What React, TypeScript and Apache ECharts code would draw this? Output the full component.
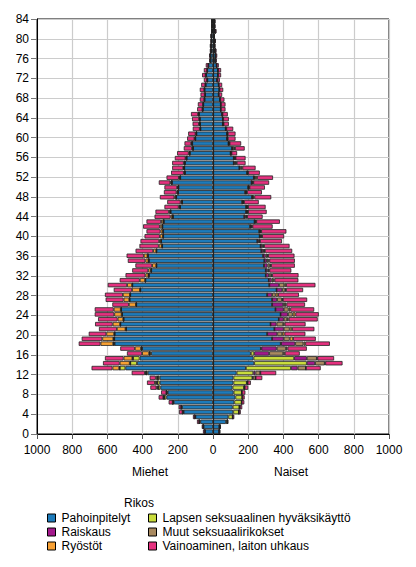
import React, { useEffect, useRef } from "react";
import * as echarts from "echarts";

// Age categories (one bar per year of age, 0..84)
const ages = [
  "0","1","2","3","4","5","6","7","8","9","10","11","12","13","14","15","16","17","18","19",
  "20","21","22","23","24","25","26","27","28","29","30","31","32","33","34","35","36","37","38","39",
  "40","41","42","43","44","45","46","47","48","49","50","51","52","53","54","55","56","57","58","59",
  "60","61","62","63","64","65","66","67","68","69","70","71","72","73","74","75","76","77","78","79",
  "80","81","82","83","84",
];

const crimeNames = [
  "Pahoinpitelyt",
  "Lapsen seksuaalinen hyväksikäyttö",
  "Raiskaus",
  "Muut seksuaalirikokset",
  "Ryöstöt",
  "Vainoaminen, laiton uhkaus",
];
const crimeColors = ["#1d7bbb", "#c9dc3c", "#a3198c", "#a98a60", "#f7a033", "#e5317f"];

// Miehet (men)
const mPahoinpitelyt = [
  45,53,72,100,167,176,223,265,258,299,303,303,371,498,432,417,352,403,559,561,
  559,494,526,508,517,522,436,474,470,413,458,384,365,351,321,365,370,321,289,295,
  283,283,287,280,228,241,187,176,209,199,196,234,186,160,163,160,150,132,113,118,
  100,94,71,74,75,80,58,55,48,45,48,42,32,40,33,26,14,14,11,11,
  9,9,6,6,6,
];
const mLapsen = [
  2,2,5,3,4,4,4,13,5,12,14,10,8,32,38,38,8,3,3,0,
  0,0,0,0,0,0,0,0,0,0,0,0,0,0,0,0,0,0,0,0,
  0,0,0,0,0,0,0,0,0,0,0,0,0,0,0,0,0,0,0,0,
  0,0,0,0,0,0,0,0,0,0,0,0,0,0,0,0,0,0,0,0,
  0,0,0,0,0,
];
const mRaiskaus = [
  0,0,0,0,0,0,0,0,0,0,0,0,0,0,0,0,0,0,2,2,
  0,0,0,0,0,0,0,0,0,0,0,0,0,0,0,0,0,0,0,0,
  0,0,0,0,0,0,0,0,0,0,0,0,0,0,0,0,0,0,0,0,
  0,0,0,0,0,0,0,0,0,0,0,0,0,0,0,0,0,0,0,0,
  0,0,0,0,0,
];
const mMuut = [
  0,1,2,1,2,1,2,2,2,5,5,4,3,3,3,3,3,3,3,3,
  3,3,2,2,2,2,2,2,2,2,2,2,2,2,2,2,2,2,2,2,
  2,2,2,3,3,3,3,3,3,3,3,3,3,3,3,3,3,3,3,3,
  2,2,2,2,2,2,2,2,2,2,2,2,2,2,1,1,1,1,1,1,
  0,0,0,0,0,
];
const mRyostot = [
  0,0,0,0,0,0,0,2,0,5,8,8,5,38,57,50,40,35,72,63,
  44,49,42,32,42,40,40,32,40,45,28,30,17,15,23,17,21,17,17,9,
  17,13,13,12,10,7,5,5,7,5,5,5,5,3,3,3,3,3,3,3,
  3,3,2,4,2,3,0,0,0,0,0,0,0,0,0,0,0,0,0,0,
  0,0,0,0,0,
];
const mVainoaminen = [
  10,8,12,10,20,14,23,27,30,35,45,35,75,119,95,106,86,83,124,117,
  100,102,100,111,111,108,94,102,102,104,110,114,113,91,95,100,98,100,110,106,
  87,80,95,83,91,76,81,76,83,72,72,66,70,72,63,66,61,66,47,38,
  42,42,40,36,40,40,30,29,25,24,25,23,18,20,18,14,7,7,6,6,
  5,5,3,4,3,
];

// Naiset (women)
const fPahoinpitelyt = [
  36,36,74,87,115,112,121,127,117,111,116,116,134,187,234,230,215,272,385,336,
  308,349,327,374,384,355,336,336,308,361,320,317,300,300,290,292,285,275,270,252,
  265,263,211,236,178,188,188,166,222,183,200,219,232,194,150,118,118,100,108,88,
  80,80,72,56,56,52,44,44,40,32,36,32,24,28,28,20,13,14,12,8,
  9,6,12,8,8,
];
const fLapsen = [
  0,0,8,25,32,38,42,40,47,66,76,108,95,256,299,231,19,3,2,0,
  0,0,0,0,0,0,0,0,0,0,0,0,0,0,0,0,0,0,0,0,
  0,0,0,0,0,0,0,0,0,0,0,0,0,0,0,0,0,0,0,0,
  0,0,0,0,0,0,0,0,0,0,0,0,0,0,0,0,0,0,0,0,
  0,0,0,0,0,
];
const fRaiskaus = [
  0,2,0,0,0,0,0,0,0,0,2,3,12,38,47,72,85,87,80,66,
  57,53,34,28,42,47,63,28,28,32,55,16,18,10,20,14,14,10,10,8,
  7,5,5,5,8,5,5,5,4,5,3,5,5,2,5,5,4,2,5,2,
  1,1,1,1,0,0,0,0,0,0,0,0,0,0,0,0,0,0,0,0,
  0,0,0,0,0,
];
const fMuut = [
  0,2,0,0,0,3,0,0,0,3,3,15,28,47,55,57,80,53,47,34,
  28,34,38,19,27,28,10,28,20,17,30,10,12,6,14,9,9,6,6,4,
  4,4,5,3,5,4,4,3,3,3,2,3,3,2,8,7,4,2,9,3,
  2,2,2,2,2,2,1,1,1,1,1,1,1,1,1,1,1,1,1,1,
  1,0,1,1,1,
];
const fRyostot = [
  0,0,0,0,0,0,0,0,0,0,0,0,0,0,3,3,9,8,10,19,
  13,13,8,9,15,9,8,5,14,5,10,6,6,4,6,5,5,4,4,3,
  3,2,3,2,3,2,2,2,6,2,2,2,10,2,4,5,2,1,3,1,
  1,1,1,1,0,0,0,0,0,0,0,0,0,0,0,0,0,0,0,0,
  0,0,0,0,0,
];
const fVainoaminen = [
  6,5,5,9,11,13,15,13,20,20,18,38,90,84,98,95,85,110,140,129,
  119,127,119,165,133,136,106,138,118,97,167,136,150,125,135,145,150,155,145,125,
  125,143,115,134,88,106,100,84,96,85,88,90,91,66,75,50,57,32,55,66,
  44,44,39,30,32,30,26,26,24,19,21,19,14,17,17,12,8,9,7,5,
  6,4,7,5,5,
];

const menData = [mPahoinpitelyt, mLapsen, mRaiskaus, mMuut, mRyostot, mVainoaminen];
const womenData = [fPahoinpitelyt, fLapsen, fRaiskaus, fMuut, fRyostot, fVainoaminen];

const FONT = "'Liberation Sans', Arial, sans-serif";

export default function App() {
  const ref = useRef<HTMLDivElement>(null);

  useEffect(() => {
    if (!ref.current) return;
    const chart = echarts.init(ref.current, undefined, { renderer: "svg" });

    const series: any[] = [];
    crimeNames.forEach((name, k) => {
      const base = {
        type: "bar",
        name,
        yAxisIndex: 0,
        barCategoryGap: "10%",
        barGap: "-100%",
        itemStyle: { color: crimeColors[k], borderColor: "#222", borderWidth: 0.8 },
        emphasis: { disabled: true },
      };
      series.push({ ...base, stack: "men", data: menData[k].map((v) => -v) });
      series.push({
        ...base,
        stack: "women",
        data: womenData[k],
        ...(k === 0
          ? {
              markLine: {
                silent: true,
                symbol: "none",
                label: { show: false },
                lineStyle: { color: "#222", width: 1.2, type: "solid" },
                data: [{ xAxis: 0 }],
              },
            }
          : {}),
      });
    });

    const legendCommon = {
      orient: "vertical",
      top: 507,
      itemWidth: 8,
      itemHeight: 8,
      itemGap: 2,
      icon: "rect",
      selectedMode: false,
      itemStyle: { borderColor: "#000", borderWidth: 1 },
      textStyle: { fontFamily: FONT, fontSize: 12, color: "#000", padding: [0, 0, 0, 1] },
    };

    chart.setOption({
      animation: false,
      textStyle: { fontFamily: FONT },
      grid: {
        left: 37,
        right: 27,
        top: 19,
        bottom: 133,
        show: true,
        borderColor: "#000",
        borderWidth: 1,
        backgroundColor: "transparent",
      },
      xAxis: {
        type: "value",
        min: -1000,
        max: 1000,
        interval: 200,
        axisLine: { show: true, lineStyle: { color: "#000" } },
        axisTick: { show: true, length: 5, lineStyle: { color: "#555" } },
        axisLabel: {
          fontFamily: FONT,
          fontSize: 12,
          color: "#000",
          margin: 10,
          formatter: (v: number) => String(Math.abs(v)),
        },
        splitLine: { show: true, lineStyle: { color: "#cccccc", width: 1.2 } },
      },
      yAxis: [
        {
          type: "category",
          data: ages,
          show: false,
          boundaryGap: true,
        },
        {
          type: "value",
          min: 0,
          max: 84,
          interval: 4,
          position: "left",
          axisLine: { show: true, lineStyle: { color: "#000" } },
          axisTick: { show: true, length: 6, lineStyle: { color: "#777" } },
          axisLabel: { fontFamily: FONT, fontSize: 12, color: "#000", margin: 8 },
          splitLine: { show: true, lineStyle: { color: "#cccccc", width: 1.2 } },
        },
      ],
      legend: [
        {
          ...legendCommon,
          left: 42,
          data: [crimeNames[0], crimeNames[2], crimeNames[4]],
        },
        {
          ...legendCommon,
          left: 143,
          data: [crimeNames[1], crimeNames[3], crimeNames[5]],
        },
      ],
      graphic: [
        {
          type: "text",
          left: 132,
          top: 466,
          style: { text: "Miehet", font: `12px ${FONT}`, fill: "#000" },
        },
        {
          type: "text",
          left: 274,
          top: 466,
          style: { text: "Naiset", font: `12px ${FONT}`, fill: "#000" },
        },
        {
          type: "text",
          left: 124,
          top: 497,
          style: { text: "Rikos", font: `12px ${FONT}`, fill: "#000" },
        },
      ],
      series,
    });

    return () => chart.dispose();
  }, []);

  return (
    <div
      ref={ref}
      style={{ position: "fixed", left: 0, top: 0, width: 416, height: 567, background: "#fff" }}
    />
  );
}
